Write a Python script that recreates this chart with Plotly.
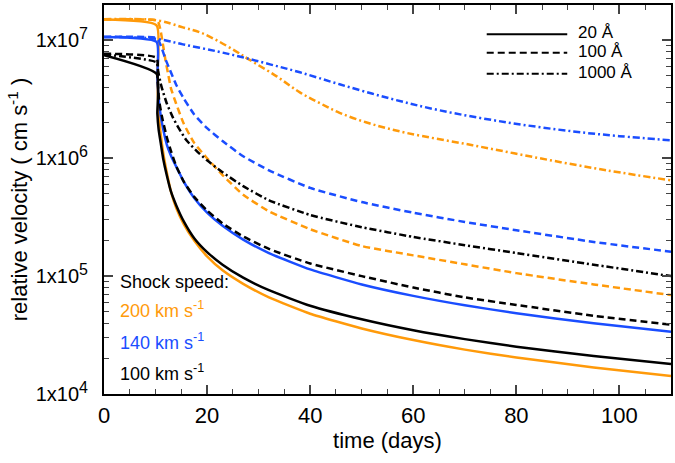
import plotly.graph_objects as go

# ---- data (time in days, relative velocity in cm/s) ----
# Shock speed 200 km/s (orange)
t_o20 = [0, 10.2, 10.35, 10.6, 11, 11.5, 12.2, 13, 14, 15.5, 17.5, 20, 23, 27, 32, 40, 50, 60, 70, 80, 95, 110]
v_o20 = [1.5e7, 1.34e7, 5e6, 2.5e6, 1.6e6, 1.1e6, 7.5e5, 5.2e5, 3.8e5, 2.75e5, 2.0e5, 1.47e5, 1.12e5, 8.6e4, 6.6e4, 4.8e4, 3.6e4, 2.87e4, 2.38e4, 2.04e4, 1.68e4, 1.42e4]
t_o100 = [0, 10.2, 10.6, 11, 11.4, 12, 12.4, 13, 14, 15.5, 17.5, 20, 23, 27, 32, 40, 50, 60, 70, 80, 95, 110]
v_o100 = [1.5e7, 1.48e7, 1.4e7, 1.2e7, 9.4e6, 6.5e6, 5.3e6, 3.9e6, 2.9e6, 1.95e6, 1.35e6, 1.0e6, 7.2e5, 4.9e5, 3.55e5, 2.5e5, 1.8e5, 1.5e5, 1.26e5, 1.06e5, 8.5e4, 6.9e4]
t_o1000 = [0, 10.2, 15.3, 18.6, 21.9, 25.6, 28.1, 33.5, 38, 41.9, 45.7, 51.6, 58.7, 71.5, 84.5, 97.5, 110]
v_o1000 = [1.51e7, 1.48e7, 1.29e7, 1.17e7, 1.0e7, 8.07e6, 6.9e6, 4.95e6, 3.62e6, 2.93e6, 2.43e6, 1.97e6, 1.64e6, 1.29e6, 1.0e6, 7.9e5, 6.5e5]

# Shock speed 140 km/s (blue)
t_b20 = [0, 10.2, 10.35, 10.6, 11, 11.5, 12.2, 13, 14, 15.5, 17.5, 20, 23, 27, 32, 40, 50, 60, 70, 80, 95, 110]
v_b20 = [1.07e7, 9.7e6, 5e6, 3.2e6, 2.3e6, 1.75e6, 1.3e6, 1.05e6, 8.5e5, 6.3e5, 4.6e5, 3.45e5, 2.67e5, 2.04e5, 1.57e5, 1.14e5, 8.5e4, 6.8e4, 5.66e4, 4.84e4, 3.98e4, 3.37e4]
t_b100 = [0, 10.2, 10.6, 11.2, 12, 12.8, 14, 15.5, 17.5, 20, 23, 27, 32, 40, 50, 60, 70, 80, 95, 110]
v_b100 = [1.07e7, 1.05e7, 1.0e7, 8.6e6, 6.8e6, 5.6e6, 4.2e6, 3.2e6, 2.35e6, 1.8e6, 1.4e6, 1.04e6, 7.9e5, 5.6e5, 4.25e5, 3.45e5, 2.88e5, 2.45e5, 1.95e5, 1.61e5]
t_b1000 = [0, 10.2, 15.3, 21.9, 26.9, 32.2, 38, 45.7, 55.4, 65.1, 78, 90.9, 100, 110]
v_b1000 = [1.07e7, 1.03e7, 9.25e6, 8.07e6, 7.18e6, 6.26e6, 5.36e6, 4.24e6, 3.22e6, 2.55e6, 2.02e6, 1.69e6, 1.54e6, 1.42e6]

# Shock speed 100 km/s (black)
t_k20 = [0, 10.2, 10.35, 10.6, 11, 11.5, 12.2, 13, 14, 15.5, 17.5, 20, 23, 27, 32, 40, 50, 60, 70, 80, 95, 110]
v_k20 = [7.5e6, 5.2e6, 2.4e6, 1.75e6, 1.35e6, 9.8e5, 7.1e5, 5.2e5, 4.0e5, 2.9e5, 2.1e5, 1.6e5, 1.25e5, 9.7e4, 7.6e4, 5.6e4, 4.3e4, 3.47e4, 2.92e4, 2.52e4, 2.1e4, 1.8e4]
t_k100 = [0, 10.2, 10.4, 10.7, 11.2, 12.2, 13, 14, 15.5, 17.5, 20, 23, 27, 32, 40, 50, 60, 70, 80, 95, 110]
v_k100 = [7.7e6, 7.1e6, 4.6e6, 3.1e6, 2.3e6, 1.5e6, 1.15e6, 8.6e5, 6.3e5, 4.7e5, 3.6e5, 2.8e5, 2.17e5, 1.7e5, 1.28e5, 1.0e5, 8.0e4, 6.6e4, 5.7e4, 4.6e4, 3.87e4]
t_k1000 = [0, 10.2, 10.5, 11, 11.5, 12.2, 13.4, 14.5, 16, 18, 20, 23, 27, 32, 40, 50, 60, 70, 80, 95, 110]
v_k1000 = [7.6e6, 6.5e6, 5.5e6, 4.3e6, 3.6e6, 2.9e6, 2.2e6, 1.8e6, 1.42e6, 1.15e6, 9.6e5, 7.6e5, 5.8e5, 4.4e5, 3.3e5, 2.6e5, 2.15e5, 1.83e5, 1.57e5, 1.25e5, 1.0e5]

y_tickvals = [1e4, 1e5, 1e6, 1e7]
y_exponents = ["4", "5", "6", "7"]
x_tickvals = [0, 20, 40, 60, 80, 100]

legend_labels = ["20 Å", "100 Å", "1000 Å"]
speed_labels = ["200 km s<sup>-1</sup>", "140 km s<sup>-1</sup>", "100 km s<sup>-1</sup>"]

ORANGE = "#FF9A0A"
BLUE = "#1A4DFF"
BLACK = "#000000"
DASH = "7px,4px"
DASHDOT = "7px,3px,2px,3px"

series = [
    (t_o20, v_o20, ORANGE, "solid", 0.5),
    (t_o100, v_o100, ORANGE, DASH, 0.5),
    (t_o1000, v_o1000, ORANGE, DASHDOT, 1.0),
    (t_b20, v_b20, BLUE, "solid", 0.5),
    (t_b100, v_b100, BLUE, DASH, 0.5),
    (t_b1000, v_b1000, BLUE, DASHDOT, 1.0),
    (t_k20, v_k20, BLACK, "solid", 0.5),
    (t_k100, v_k100, BLACK, DASH, 0.5),
    (t_k1000, v_k1000, BLACK, DASHDOT, 0.5),
]

FONT = "Liberation Sans, Arial, Helvetica, sans-serif"
y_ticktext = ["1x10<sup><span style='font-size:16px'>%s</span></sup>" % e for e in y_exponents]

fig = go.Figure()
for t, v, c, d, sm in series:
    fig.add_trace(go.Scatter(x=t, y=v, mode="lines",
                             line=dict(color=c, width=2.5, dash=d, shape="spline", smoothing=sm),
                             showlegend=False, hoverinfo="skip"))

fig.update_layout(
    width=675, height=463,
    margin=dict(l=104, r=4, t=5, b=69),
    paper_bgcolor="white", plot_bgcolor="white",
    font=dict(family=FONT, color="black", size=18),
    showlegend=False,
)

fig.update_xaxes(
    range=[0, 110], tickvals=x_tickvals, ticks="inside", ticklen=9, tickwidth=2,
    tickfont=dict(size=22), showline=True, linewidth=2, linecolor="black",
    mirror="allticks", showgrid=False, zeroline=False, automargin=False,
    ticklabelstandoff=1,
    minor=dict(ticks="inside", ticklen=5, tickwidth=1, dtick=5, showgrid=False),
    title=dict(text="time (days)", font=dict(size=22), standoff=4),
)
fig.update_yaxes(
    type="log", range=[4, 7.3], tickvals=y_tickvals, ticktext=y_ticktext,
    ticks="inside", ticklen=9, tickwidth=2, tickfont=dict(size=20),
    showline=True, linewidth=2, linecolor="black", mirror="allticks",
    showgrid=False, zeroline=False, automargin=False, ticklabelstandoff=10,
    minor=dict(ticks="inside", ticklen=5, tickwidth=1, dtick="D1", showgrid=False),
    title=dict(text="relative velocity ( cm s<sup>-1</sup> )", font=dict(size=22), standoff=2),
)

# legend (line styles) drawn in the upper-right of the plot area
leg_y = [0.925, 0.877, 0.823]
leg_dash = ["solid", DASH, DASHDOT]
for lab, yy, dd in zip(legend_labels, leg_y, leg_dash):
    fig.add_shape(type="line", xref="paper", yref="paper", x0=0.675, x1=0.817, y0=yy, y1=yy,
                  line=dict(color="black", width=2, dash=dd))
    fig.add_annotation(xref="paper", yref="paper", x=0.832, y=yy + 0.004, text=lab, showarrow=False,
                       xanchor="left", yanchor="middle", font=dict(size=17, color="black"))

# shock speed labels
fig.add_annotation(xref="paper", yref="paper", x=0.024, y=0.288, text="Shock speed:", showarrow=False,
                   xanchor="left", yanchor="middle", font=dict(size=18, color="black"))
for lab, yy, c in zip(speed_labels, [0.216, 0.134, 0.054], [ORANGE, BLUE, BLACK]):
    fig.add_annotation(xref="paper", yref="paper", x=0.024, y=yy, text=lab, showarrow=False,
                       xanchor="left", yanchor="middle", font=dict(size=18, color=c))

fig.write_html("out.html", config={"displayModeBar": False},
               post_script="document.body.style.margin='0px';")
